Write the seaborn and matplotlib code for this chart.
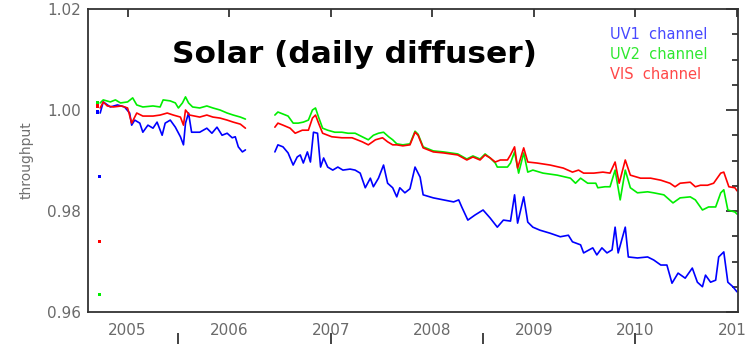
import numpy as np
import pandas as pd
import matplotlib
matplotlib.use("Agg")
import matplotlib.pyplot as plt
import seaborn as sns

# ---------------- data ----------------
channels = ["UV1 channel", "UV2 channel", "VIS channel"]
line_colors = ["#0000ff", "#00ee00", "#ff0000"]
text_colors = ["#4848ff", "#30e830", "#ff4848"]

x_ticks = [2005, 2006, 2007, 2008, 2009, 2010, 2011]
y_ticks = [0.96, 0.98, 1.00, 1.02]

# isolated early points
early_year = [2004.70, 2004.72]
uv1_early = [0.9996, 0.9869]
uv2_early = [1.0014, 0.9634]
vis_early = [1.0008, 0.9739]

# UV1 channel
uv1_year_a = [2004.73, 2004.76, 2004.83, 2004.90, 2004.97, 2005.02, 2005.04, 2005.07, 2005.12, 2005.15,
              2005.20, 2005.25, 2005.29, 2005.34, 2005.37, 2005.42, 2005.47, 2005.52, 2005.55, 2005.57,
              2005.60, 2005.63, 2005.71, 2005.78, 2005.83, 2005.88, 2005.93, 2005.98, 2006.03, 2006.06,
              2006.09, 2006.13, 2006.16]
uv1_val_a = [0.9994, 1.0016, 1.0006, 1.0010, 1.0006, 0.9994, 0.9970, 0.9980, 0.9974, 0.9956,
             0.9970, 0.9964, 0.9976, 0.9950, 0.9974, 0.9980, 0.9966, 0.9947, 0.9931, 0.9974,
             0.9994, 0.9956, 0.9956, 0.9964, 0.9954, 0.9966, 0.9950, 0.9954, 0.9945, 0.9947,
             0.9927, 0.9917, 0.9921]
uv1_year_b = [2006.45, 2006.48, 2006.53, 2006.58, 2006.63, 2006.67, 2006.70, 2006.73, 2006.77, 2006.80,
              2006.83, 2006.87, 2006.90, 2006.93, 2006.97, 2007.02, 2007.07, 2007.12, 2007.19, 2007.24,
              2007.29, 2007.34, 2007.39, 2007.42, 2007.47, 2007.52, 2007.56, 2007.61, 2007.65, 2007.68,
              2007.73, 2007.78, 2007.83, 2007.88, 2007.91, 2008.01, 2008.11, 2008.21, 2008.26, 2008.29,
              2008.35, 2008.42, 2008.50, 2008.57, 2008.64, 2008.70, 2008.77, 2008.81, 2008.84, 2008.90,
              2008.94, 2008.99, 2009.06, 2009.16, 2009.26, 2009.34, 2009.38, 2009.46, 2009.49, 2009.58,
              2009.62, 2009.67, 2009.72, 2009.77, 2009.80, 2009.83, 2009.90, 2009.93, 2010.02, 2010.12,
              2010.18, 2010.25, 2010.31, 2010.36, 2010.42, 2010.49, 2010.56, 2010.61, 2010.66, 2010.69,
              2010.74, 2010.79, 2010.82, 2010.87, 2010.91, 2010.96, 2011.00]
uv1_val_b = [0.9917, 0.9931, 0.9927, 0.9915, 0.9891, 0.9907, 0.9911, 0.9895, 0.9917, 0.9897,
             0.9956, 0.9954, 0.9887, 0.9905, 0.9887, 0.9881, 0.9887, 0.9881, 0.9883, 0.9881,
             0.9875, 0.9846, 0.9865, 0.9848, 0.9865, 0.9891, 0.9855, 0.9846, 0.9828, 0.9846,
             0.9836, 0.9844, 0.9887, 0.9867, 0.9832, 0.9826, 0.9822, 0.9818, 0.9822, 0.9808,
             0.9782, 0.9792, 0.9802, 0.9786, 0.9768, 0.9782, 0.9780, 0.9832, 0.9776, 0.9828,
             0.9778, 0.9768, 0.9762, 0.9756, 0.9749, 0.9752, 0.9739, 0.9733, 0.9717, 0.9727,
             0.9713, 0.9727, 0.9717, 0.9723, 0.9768, 0.9717, 0.9768, 0.9709, 0.9707, 0.9709,
             0.9703, 0.9693, 0.9693, 0.9657, 0.9677, 0.9667, 0.9687, 0.9659, 0.9650, 0.9673,
             0.9659, 0.9663, 0.9709, 0.9719, 0.9659, 0.9650, 0.9640]

# UV2 channel
uv2_year_a = [2004.73, 2004.76, 2004.83, 2004.88, 2004.93, 2005.00, 2005.05, 2005.09, 2005.15, 2005.25,
              2005.32, 2005.35, 2005.42, 2005.47, 2005.50, 2005.54, 2005.57, 2005.60, 2005.64, 2005.71,
              2005.78, 2005.84, 2005.91, 2005.98, 2006.04, 2006.11, 2006.16]
uv2_val_a = [1.0014, 1.0020, 1.0016, 1.0020, 1.0014, 1.0016, 1.0024, 1.0010, 1.0006, 1.0008,
             1.0006, 1.0020, 1.0018, 1.0014, 1.0004, 1.0014, 1.0026, 1.0014, 1.0006, 1.0004,
             1.0008, 1.0004, 1.0000, 0.9994, 0.9990, 0.9986, 0.9982]
uv2_year_b = [2006.45, 2006.48, 2006.53, 2006.58, 2006.63, 2006.68, 2006.73, 2006.78, 2006.82, 2006.85,
              2006.88, 2006.92, 2006.97, 2007.04, 2007.11, 2007.17, 2007.24, 2007.31, 2007.37, 2007.42,
              2007.47, 2007.52, 2007.57, 2007.61, 2007.65, 2007.71, 2007.78, 2007.83, 2007.86, 2007.91,
              2008.01, 2008.11, 2008.25, 2008.34, 2008.40, 2008.47, 2008.52, 2008.57, 2008.62, 2008.64,
              2008.74, 2008.77, 2008.81, 2008.85, 2008.90, 2008.94, 2008.99, 2009.09, 2009.23, 2009.36,
              2009.41, 2009.46, 2009.53, 2009.61, 2009.63, 2009.70, 2009.75, 2009.80, 2009.85, 2009.90,
              2009.95, 2010.02, 2010.12, 2010.18, 2010.28, 2010.37, 2010.44, 2010.54, 2010.59, 2010.66,
              2010.72, 2010.79, 2010.84, 2010.87, 2010.91, 2010.98, 2011.00]
uv2_val_b = [0.9990, 0.9996, 0.9992, 0.9988, 0.9974, 0.9974, 0.9976, 0.9980, 1.0000, 1.0004,
             0.9986, 0.9964, 0.9960, 0.9956, 0.9956, 0.9954, 0.9954, 0.9947, 0.9941, 0.9950,
             0.9954, 0.9956, 0.9947, 0.9941, 0.9933, 0.9931, 0.9933, 0.9958, 0.9952, 0.9927,
             0.9919, 0.9917, 0.9913, 0.9903, 0.9909, 0.9903, 0.9913, 0.9905, 0.9895, 0.9887,
             0.9887, 0.9895, 0.9917, 0.9875, 0.9915, 0.9877, 0.9881, 0.9875, 0.9871, 0.9865,
             0.9855, 0.9865, 0.9855, 0.9855, 0.9846, 0.9848, 0.9848, 0.9881, 0.9822, 0.9881,
             0.9846, 0.9836, 0.9838, 0.9836, 0.9832, 0.9816, 0.9826, 0.9828, 0.9822, 0.9802,
             0.9808, 0.9808, 0.9836, 0.9842, 0.9802, 0.9798, 0.9794]

# VIS channel
vis_year_a = [2004.73, 2004.76, 2004.80, 2004.86, 2004.94, 2005.00, 2005.04, 2005.09, 2005.15, 2005.25,
              2005.32, 2005.39, 2005.45, 2005.52, 2005.55, 2005.57, 2005.61, 2005.71, 2005.78, 2005.84,
              2005.91, 2005.98, 2006.04, 2006.11, 2006.16]
vis_val_a = [1.0004, 1.0016, 1.0008, 1.0006, 1.0008, 1.0004, 0.9974, 0.9994, 0.9988, 0.9988,
             0.9990, 0.9994, 0.9990, 0.9986, 0.9970, 1.0000, 0.9990, 0.9986, 0.9990, 0.9986,
             0.9984, 0.9980, 0.9976, 0.9972, 0.9964]
vis_year_b = [2006.45, 2006.48, 2006.53, 2006.60, 2006.65, 2006.72, 2006.78, 2006.82, 2006.85, 2006.88,
              2006.92, 2007.01, 2007.11, 2007.21, 2007.31, 2007.37, 2007.44, 2007.51, 2007.56, 2007.61,
              2007.65, 2007.71, 2007.78, 2007.83, 2007.86, 2007.91, 2008.01, 2008.11, 2008.25, 2008.34,
              2008.40, 2008.47, 2008.52, 2008.57, 2008.62, 2008.67, 2008.74, 2008.77, 2008.81, 2008.84,
              2008.90, 2008.94, 2009.03, 2009.16, 2009.29, 2009.38, 2009.44, 2009.49, 2009.59, 2009.68,
              2009.75, 2009.80, 2009.84, 2009.90, 2009.95, 2010.05, 2010.15, 2010.25, 2010.34, 2010.39,
              2010.44, 2010.54, 2010.59, 2010.64, 2010.71, 2010.77, 2010.84, 2010.87, 2010.92, 2010.98,
              2011.00]
vis_val_b = [0.9966, 0.9974, 0.9970, 0.9964, 0.9954, 0.9960, 0.9960, 0.9984, 0.9990, 0.9974,
             0.9954, 0.9947, 0.9945, 0.9945, 0.9937, 0.9931, 0.9941, 0.9945, 0.9937, 0.9931,
             0.9931, 0.9929, 0.9931, 0.9956, 0.9950, 0.9925, 0.9917, 0.9915, 0.9911, 0.9901,
             0.9907, 0.9901, 0.9911, 0.9905, 0.9897, 0.9901, 0.9901, 0.9911, 0.9927, 0.9885,
             0.9925, 0.9897, 0.9895, 0.9891, 0.9885, 0.9877, 0.9881, 0.9875, 0.9875, 0.9877,
             0.9875, 0.9897, 0.9855, 0.9901, 0.9871, 0.9865, 0.9865, 0.9861, 0.9855, 0.9848,
             0.9855, 0.9857, 0.9848, 0.9851, 0.9851, 0.9855, 0.9875, 0.9877, 0.9848, 0.9846,
             0.9840]

# tick positions of the (cropped) panel below
lower_panel_ticks = [2005.5, 2007.0, 2008.5, 2010.0]

# ---------------- assemble tables ----------------
rows = []
series = [
    (channels[0], uv1_year_a, uv1_val_a, uv1_year_b, uv1_val_b),
    (channels[1], uv2_year_a, uv2_val_a, uv2_year_b, uv2_val_b),
    (channels[2], vis_year_a, vis_val_a, vis_year_b, vis_val_b),
]
for name, ya, va, yb, vb in series:
    for y, v in zip(ya, va):
        rows.append((name, 1, y, v))
    for y, v in zip(yb, vb):
        rows.append((name, 2, y, v))
df = pd.DataFrame(rows, columns=["channel", "segment", "year", "throughput"])

early = pd.DataFrame({
    "channel": [channels[0]] * 2 + [channels[1]] * 2 + [channels[2]] * 2,
    "year": early_year * 3,
    "throughput": uv1_early + uv2_early + vis_early,
})

# ---------------- plot ----------------
sns.set_style("white")
plt.rcParams["font.family"] = ["DejaVu Sans"]

W, H = 746, 344
fig = plt.figure(figsize=(W / 100, H / 100), dpi=100)
ax = fig.add_axes([88 / W, 1 - 312 / H, 650 / W, 303 / H])

palette = dict(zip(channels, line_colors))
sns.lineplot(data=df, x="year", y="throughput", hue="channel", hue_order=channels,
             units="segment", estimator=None, sort=False, palette=palette,
             linewidth=1.2, legend=False, ax=ax)
sns.scatterplot(data=early, x="year", y="throughput", hue="channel", hue_order=channels,
                palette=palette, marker="s", s=5, linewidth=0, legend=False, ax=ax)

ax.set_xlim(2004.61, 2011.01)
ax.set_ylim(0.96, 1.02)
ax.set_xticks(x_ticks)
ax.set_xticklabels([str(t) for t in x_ticks])
ax.set_yticks(y_ticks)
ax.set_yticklabels([f"{t:.2f}" for t in y_ticks])
ax.yaxis.set_minor_locator(matplotlib.ticker.MultipleLocator(0.005))
ax.set_xlabel("")
ax.set_ylabel("throughput", fontsize=10, color="#707070", labelpad=10)

ax.tick_params(axis="both", which="both", direction="in", top=True, right=True,
               colors="#222222", labelcolor="#6a6a6a", labelsize=11)
ax.tick_params(axis="y", which="major", length=9, width=1.2, pad=5)
ax.tick_params(axis="y", which="minor", length=4.3, width=1.2)
ax.tick_params(axis="x", which="major", length=6, width=1.2, pad=8)
for s in ax.spines.values():
    s.set_color("#333333")
    s.set_linewidth(1.3)
    s.set_visible(True)

ax.text(0.41, 0.851, "Solar (daily diffuser)", transform=ax.transAxes,
        ha="center", va="center", fontsize=22.5, fontweight="bold", color="black")

for i, (name, c) in enumerate(zip(channels, text_colors)):
    ax.text(0.803, 0.917 - 0.066 * i, name.replace(" ", "  "), transform=ax.transAxes,
            ha="left", va="center", fontsize=10.5, color=c)

# cropped panel below: only its top ticks are visible
ax2 = fig.add_axes([88 / W, -0.3, 650 / W, 0.3])
ax2.set_xlim(2004.61, 2011.01)
ax2.set_xticks(lower_panel_ticks)
ax2.set_yticks([])
ax2.tick_params(axis="x", top=True, bottom=False, labeltop=False, labelbottom=False,
                direction="out", length=8, width=1.2, colors="#222222")
for s in ax2.spines.values():
    s.set_visible(False)
ax2.patch.set_visible(False)

fig.savefig("out.png", dpi=100)
